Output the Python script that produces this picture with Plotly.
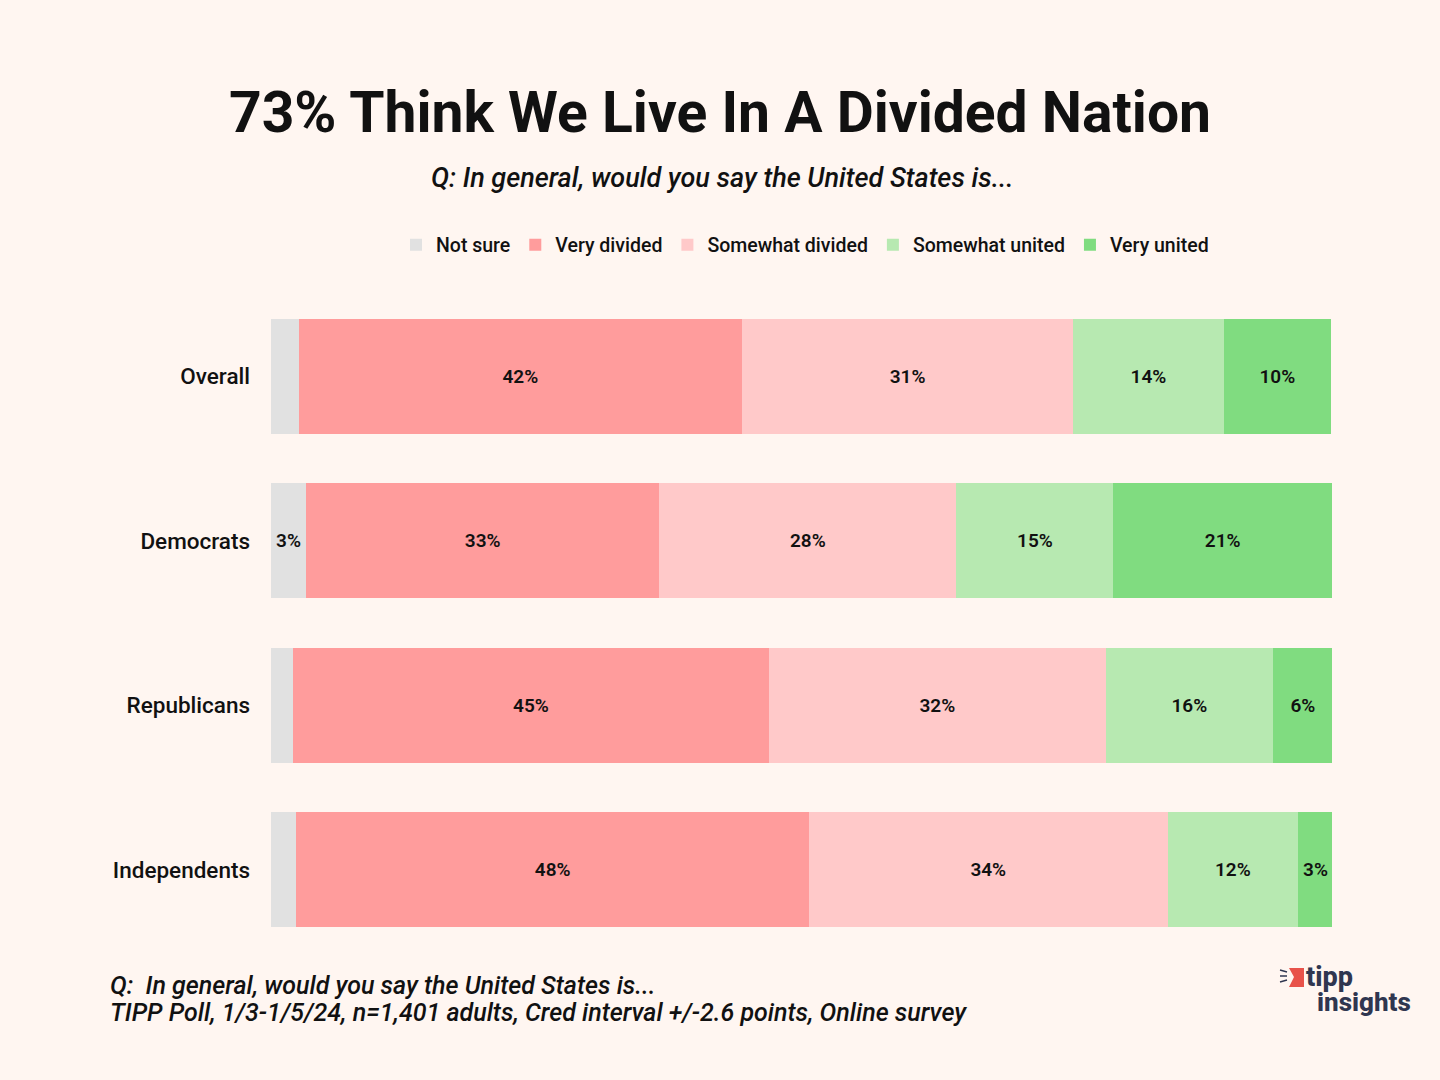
import plotly.graph_objects as go

# Data (percent of respondents)
groups = ["Overall", "Democrats", "Republicans", "Independents"]
series = ["Not sure", "Very divided", "Somewhat divided", "Somewhat united", "Very united"]

not_sure = [2.6, 3.3, 2.1, 2.4]
very_divided = [41.8, 33.3, 44.8, 48.3]
somewhat_divided = [31.2, 28.0, 31.8, 33.8]
somewhat_united = [14.2, 14.8, 15.7, 12.3]
very_united = [10.1, 20.6, 5.7, 3.3]

# labels shown in the bars (small slivers are left blank)
not_sure_labels = ["", "3%", "", ""]
very_divided_labels = ["42%", "33%", "45%", "48%"]
somewhat_divided_labels = ["31%", "28%", "32%", "34%"]
somewhat_united_labels = ["14%", "15%", "16%", "12%"]
very_united_labels = ["10%", "21%", "6%", "3%"]

colors = ["#E1E1E1", "#FF9C9C", "#FFC9C9", "#B7E9B1", "#80DC80"]
values = [not_sure, very_divided, somewhat_divided, somewhat_united, very_united]
labels = [not_sure_labels, very_divided_labels, somewhat_divided_labels,
          somewhat_united_labels, very_united_labels]

FONT = "Roboto, Noto Sans, sans-serif"
BG = "#FFF6F1"
INK = "#111111"
LOGO = "#2F3650"
W, H = 1440, 1080
L, R, T, B = 271, 108, 294, 128
PW, PH = W - L - R, H - T - B


def px_x(x):
    return (x - L) / PW


def px_y(y):
    return (H - B - y) / PH


fig = go.Figure()
for name, vals, txt, col in zip(series, values, labels, colors):
    fig.add_trace(go.Bar(
        y=groups, x=vals, name=name, orientation="h",
        marker=dict(color=col, line=dict(width=0)),
        text=txt, textposition="inside", insidetextanchor="middle",
        textfont=dict(size=19, color=INK, family=FONT, weight=600),
        hoverinfo="x+name",
    ))

fig.update_layout(
    barmode="stack",
    bargap=0.3,
    width=W, height=H,
    paper_bgcolor=BG, plot_bgcolor=BG,
    margin=dict(l=L, r=R, t=T, b=B),
    font=dict(family=FONT, color=INK),
    showlegend=True,
    legend=dict(orientation="h", x=px_x(805), xanchor="center", y=1 - 245 / H, yref="container",
                yanchor="middle", traceorder="normal",
                font=dict(size=19.5, family=FONT, weight=500), itemwidth=30),
    xaxis=dict(range=[0, 100], visible=False),
    yaxis=dict(autorange="reversed", showgrid=False, zeroline=False,
               tickfont=dict(size=22.5, family=FONT, color=INK, weight=500),
               ticklabelstandoff=20),
    title=dict(text="73% Think We Live In A Divided Nation",
               x=0.5, xanchor="center", y=1 - 112 / H, yref="container", yanchor="middle",
               font=dict(size=57, family=FONT, color=INK, weight=700)),
)

fig.add_annotation(text="<i>Q: In general, would you say the United States is...</i>",
                   xref="paper", yref="paper", x=px_x(722), y=px_y(178),
                   xanchor="center", yanchor="middle", showarrow=False,
                   font=dict(size=27, family=FONT, color=INK, weight=500))

# footnote, two lines
foot_lines = ["Q:  In general, would you say the United States is...",
              "TIPP Poll, 1/3-1/5/24, n=1,401 adults, Cred interval +/-2.6 points, Online survey"]
for line, yy in zip(foot_lines, [985, 1012]):
    fig.add_annotation(text=f"<i>{line}</i>", xref="paper", yref="paper",
                       x=px_x(108), y=px_y(yy), xanchor="left", yanchor="middle",
                       showarrow=False, font=dict(size=25, family=FONT, color=INK, weight=500))

# tipp insights logo
fig.add_shape(type="path", xref="paper", yref="paper",
              path=f"M {px_x(1289)},{px_y(968)} L {px_x(1304)},{px_y(968)} "
                   f"L {px_x(1304)},{px_y(987)} L {px_x(1289)},{px_y(987)} "
                   f"L {px_x(1294)},{px_y(977)} Z",
              fillcolor="#E8524A", line=dict(width=0))
for y0, y1 in [(970, 972), (976, 976), (982, 980)]:
    fig.add_shape(type="line", xref="paper", yref="paper",
                  x0=px_x(1280), x1=px_x(1287), y0=px_y(y0), y1=px_y(y1),
                  line=dict(color=LOGO, width=1.5))
fig.add_annotation(text="tipp", xref="paper", yref="paper",
                   x=px_x(1305), y=px_y(977), xanchor="left", yanchor="middle", borderpad=0,
                   showarrow=False, font=dict(size=27, family=FONT, color=LOGO, weight=800))
fig.add_annotation(text="insights", xref="paper", yref="paper",
                   x=px_x(1316), y=px_y(1002), xanchor="left", yanchor="middle", borderpad=0,
                   showarrow=False, font=dict(size=26, family=FONT, color=LOGO, weight=800))

fig.write_html("out.html", config={"displayModeBar": False},
               post_script="document.body.style.margin='0';")
